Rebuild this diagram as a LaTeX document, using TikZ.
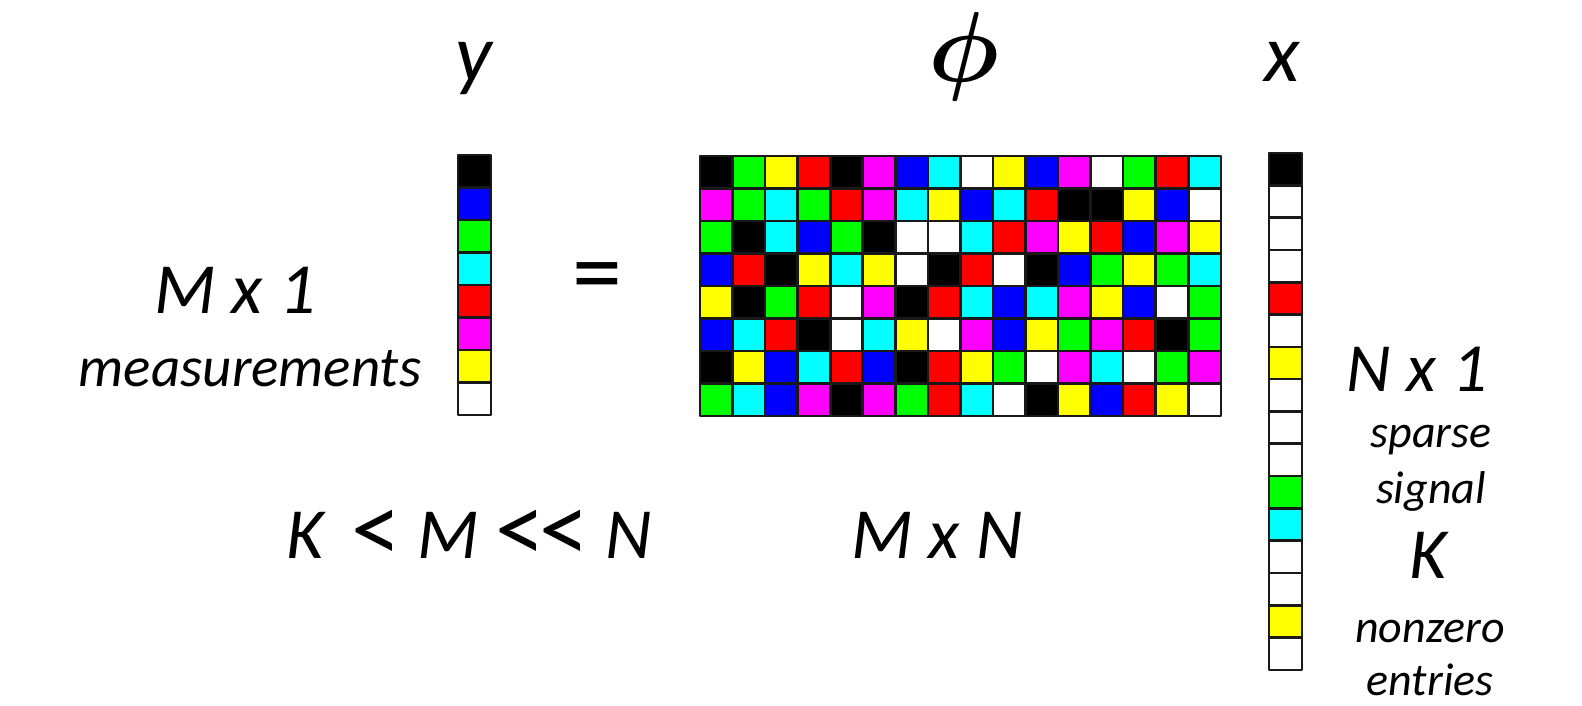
\documentclass[tikz,border=0pt]{standalone}
\usepackage{amsmath}
\usepackage{fontspec}
\usepackage{graphicx}
\setmainfont{Carlito}
\definecolor{cK}{RGB}{0,0,0}
\definecolor{cW}{RGB}{255,255,255}
\definecolor{cR}{RGB}{255,0,0}
\definecolor{cG}{RGB}{0,255,0}
\definecolor{cB}{RGB}{0,0,255}
\definecolor{cC}{RGB}{0,255,255}
\definecolor{cM}{RGB}{255,0,255}
\definecolor{cY}{RGB}{255,255,0}
\newcommand\ltsign{\raisebox{-4pt}{\fontsize{100}{100}\selectfont\upshape<}}
\begin{document}
\begin{tikzpicture}[x=1pt, y=-1pt, line join=round,
		cell/.style={draw=black!90, line width=2.6pt},
		big/.style={font=\fontsize{72}{72}\selectfont\itshape, anchor=base, inner sep=0pt},
		head/.style={font=\fontsize{82}{82}\selectfont\itshape, anchor=base, inner sep=0pt},
		mid/.style={font=\fontsize{57}{57}\selectfont\itshape, anchor=base, inner sep=0pt},
		small/.style={font=\fontsize{46}{46}\selectfont\itshape, anchor=base, inner sep=0pt}]
	\useasboundingbox (0,0) rectangle (1582,705);
	% measurement vector y
	\foreach \c [count=\i from 0] in {K,B,G,C,R,M,Y,W}{
		\draw[cell, fill=c\c] (458,155+32.5*\i) rectangle ++(33,32.5);
	}
	% sensing matrix
	\foreach \row [count=\i from 0] in {
		{K,G,Y,R,K,M,B,C,W,Y,B,M,W,G,R,C},
		{M,G,C,G,R,M,C,Y,B,C,R,K,K,Y,B,W},
		{G,K,C,B,G,K,W,W,C,R,M,Y,R,B,M,Y},
		{B,R,K,Y,C,Y,W,K,R,W,K,B,G,Y,G,C},
		{Y,K,G,R,W,M,K,R,C,B,C,M,Y,B,W,G},
		{B,C,R,K,W,C,Y,W,M,B,Y,G,M,R,K,G},
		{K,Y,B,C,R,B,K,R,Y,G,W,M,C,W,G,M},
		{G,C,B,M,K,M,G,R,C,W,K,Y,B,R,Y,W}}{
		\foreach \c [count=\j from 0] in \row{
			\draw[cell, fill=c\c] (700+32.55*\j,156+32.5*\i) rectangle ++(32.55,32.5);
		}
	}
	% sparse signal x
	\foreach \c [count=\i from 0] in {K,W,W,W,R,W,Y,W,W,W,G,C,W,W,Y,W}{
		\draw[cell, fill=c\c] (1269,153+32.3*\i) rectangle ++(33,32.3);
	}
	% labels
	\node[head] (ylbl) at (474,81) {y};
	\node[head] (philbl) at (964,81) {\scalebox{4.0}{$\boldsymbol{\phi}$}};
	\node[head] (xlbl) at (1282,81) {x};
	\node[big] (mx1) at (235,313) {M x 1};
	\node[mid] (meas) at (250,386) {measurements};
	\node[big, font=\fontsize{100}{100}\selectfont] (eq) at (597,305) {=};
	\node[big] (ineq) at (469,558) {K\, \ltsign{} M \ltsign\kern-6pt\ltsign{} N};
	\node[big, font=\fontsize{69}{69}\selectfont\itshape] (nx1) at (1417,391) {N x 1};
	\node[big] (mxn) at (937,558) {M x N};
	\node[small] (sparse) at (1431,447) {sparse};
	\node[small] (signal) at (1431,503) {signal};
	\node[big] (klbl) at (1428,578) {K};
	\node[small] (nonzero) at (1430,642) {nonzero};
	\node[small] (entries) at (1430,695) {entries};
\end{tikzpicture}
\end{document}
